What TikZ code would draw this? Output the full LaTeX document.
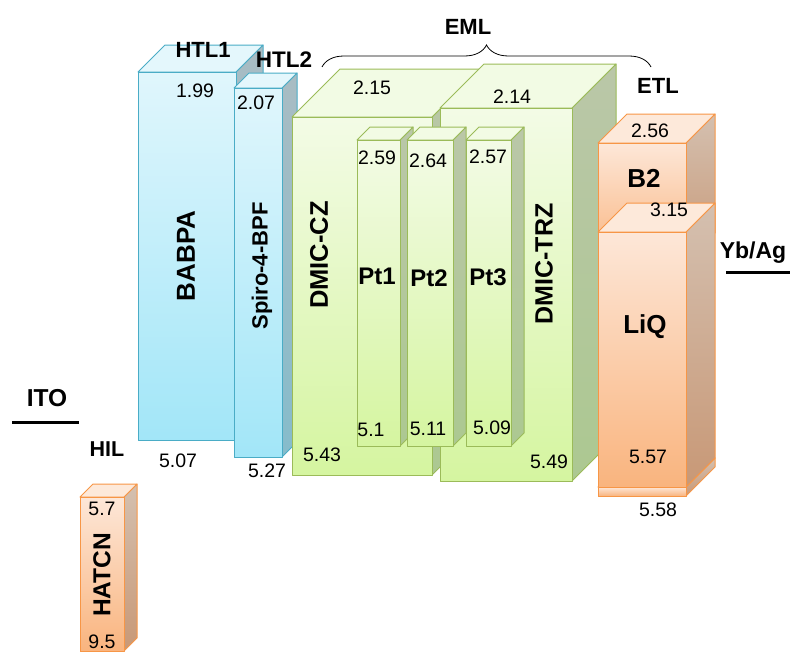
\documentclass[tikz,border=0pt]{standalone}
\usepackage{fontspec}
\setmainfont{Liberation Sans}
\setsansfont{Liberation Sans}
\usetikzlibrary{decorations.pathreplacing}

% colour families for the layer blocks
\definecolor{bluedraw}{HTML}{4AACC6}
\definecolor{bluetopc}{HTML}{E4F7FC}
\definecolor{bluefrontA}{HTML}{E0F6FC}
\definecolor{bluefrontB}{HTML}{A2E6F8}
\definecolor{bluesideA}{HTML}{A9BCC3}
\definecolor{bluesideB}{HTML}{86BCCB}
\definecolor{greendraw}{HTML}{9BBB59}
\definecolor{greentopc}{HTML}{F2FBE4}
\definecolor{greenfrontA}{HTML}{F3FBE6}
\definecolor{greenfrontB}{HTML}{D5F5A0}
\definecolor{greensideA}{HTML}{BAC7A8}
\definecolor{greensideB}{HTML}{ACC891}
\definecolor{orangedraw}{HTML}{F79646}
\definecolor{orangetopc}{HTML}{FDE9DA}
\definecolor{orangefrontA}{HTML}{FDE7D8}
\definecolor{orangefrontB}{HTML}{F9B47E}
\definecolor{orangesideA}{HTML}{D4C0B0}
\definecolor{orangesideB}{HTML}{C89876}

\tikzset{
  faceline/.style={line width=1pt, line join=round},
  bluefront/.style={faceline, draw=bluedraw, top color=bluefrontA, bottom color=bluefrontB},
  bluetop/.style={faceline, draw=bluedraw, fill=bluetopc},
  blueside/.style={faceline, draw=bluedraw, top color=bluesideA, bottom color=bluesideB},
  greenfront/.style={faceline, draw=greendraw, top color=greenfrontA, bottom color=greenfrontB},
  greentop/.style={faceline, draw=greendraw, fill=greentopc},
  greenside/.style={faceline, draw=greendraw, top color=greensideA, bottom color=greensideB},
  orangefront/.style={faceline, draw=orangedraw, top color=orangefrontA, bottom color=orangefrontB},
  orangetop/.style={faceline, draw=orangedraw, fill=orangetopc},
  orangeside/.style={faceline, draw=orangedraw, top color=orangesideA, bottom color=orangesideB},
  val/.style={font=\fontsize{19.5}{19.5}\selectfont, inner sep=0pt},
  lbl/.style={font=\fontsize{#1}{#1}\selectfont\bfseries, inner sep=0pt},
  lbl/.default=24,
  electrode/.style={line width=3pt},
}

% block: x1, y1 (top), x2, y2 (bottom), depth, colour family
\newcommand{\slab}[6]{%
  \path[#6side] (#3,#2) -- (#3+#5,#2-#5) -- (#3+#5,#4-#5) -- (#3,#4) -- cycle;
  \path[#6top] (#1,#2) -- (#1+#5,#2-#5) -- (#3+#5,#2-#5) -- (#3,#2) -- cycle;
  \path[#6front] (#1,#2) rectangle (#3,#4);
}

\begin{document}
\begin{tikzpicture}[x=1pt,y=-1pt]
\useasboundingbox (0,0) rectangle (792,653);

% hole transport layers
\slab{138}{72}{236}{440}{27}{blue}
\slab{234}{88}{282}{457}{15}{blue}
% emissive layer hosts
\slab{292}{117}{432}{475}{48}{green}
\slab{440}{108}{572}{481}{44}{green}
% emitters
\slab{357}{140}{400}{446}{13}{green}
\slab{407}{140}{453}{446}{13}{green}
\slab{466}{140}{511}{446}{13}{green}
% electron transport layers
\slab{598}{143}{686}{262}{29}{orange}
\slab{598}{487}{686}{496}{29}{orange}
\slab{598}{232}{686}{487}{29}{orange}
% hole injection layer
\slab{80}{497}{124}{651}{13}{orange}

% layer names
\node[lbl=26, rotate=90] (babpa) at (186,256) {BABPA};
\node[lbl=22, rotate=90] (spiro) at (262,266) {Spiro-4-BPF};
\node[lbl=25.5, rotate=90] (dmiccz) at (319,255) {DMIC-CZ};
\node[lbl=25, rotate=90] (dmictrz) at (544,264) {DMIC-TRZ};
\node[lbl=24.5, rotate=90] (hatcn) at (102,575) {HATCN};
\node[lbl] (pt1) at (377,276) {Pt1};
\node[lbl] (pt2) at (429,278) {Pt2};
\node[lbl] (pt3) at (488,277) {Pt3};
\node[lbl=26] (b2) at (644,178) {B2};
\node[lbl=26] (liq) at (645,327) {LiQ};

% energy levels
\node[val] (l1) at (195,91) {1.99};
\node[val] (l2) at (256,103) {2.07};
\node[val] (l3) at (372,88) {2.15};
\node[val] (l4) at (512,97) {2.14};
\node[val] (l5) at (377,158) {2.59};
\node[val] (l6) at (428,161) {2.64};
\node[val] (l7) at (488,157) {2.57};
\node[val] (l8) at (650,131) {2.56};
\node[val] (l9) at (669,210) {3.15};
\node[val] (h1) at (178,461) {5.07};
\node[val] (h2) at (267,471) {5.27};
\node[val] (h3) at (322,455) {5.43};
\node[val] (h4) at (371,430) {5.1};
\node[val] (h5) at (428,429) {5.11};
\node[val] (h6) at (492,428) {5.09};
\node[val] (h7) at (549,462) {5.49};
\node[val] (h8) at (648,457) {5.57};
\node[val] (h9) at (658,510) {5.58};
\node[val] (h10) at (102,509) {5.7};
\node[val] (h11) at (102,642) {9.5};

% group tags
\node[lbl=22] (htl1) at (203,50) {HTL1};
\node[lbl=22.5] (htl2) at (284,60) {HTL2};
\node[lbl=22] (eml) at (468,27) {EML};
\node[lbl=22] (etl) at (658,86) {ETL};
\node[lbl=21.5] (hil) at (107,449) {HIL};
\coordinate (bl) at (322,67);
\coordinate (br) at (651,67);
\draw[line width=0.8pt, decorate, decoration={brace, amplitude=22pt}] (bl) -- (br);

% electrodes
\node[lbl=24.5] (ito) at (47,398) {ITO};
\coordinate (itoA) at (12,422);
\coordinate (itoB) at (79,422);
\draw[electrode] (itoA) -- (itoB);
\node[lbl=23] (ybag) at (753,253) {Yb/Ag};
\coordinate (ybA) at (726,272);
\coordinate (ybB) at (790,272);
\draw[electrode] (ybA) -- (ybB);
\end{tikzpicture}
\end{document}
